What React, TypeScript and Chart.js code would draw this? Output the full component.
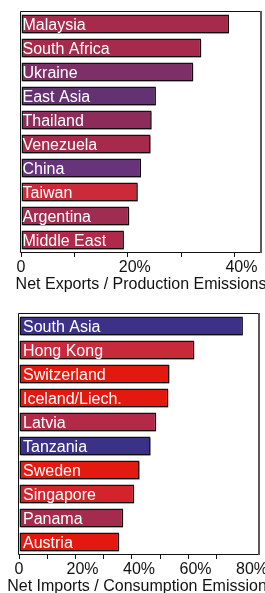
import React, { useEffect, useRef } from 'react';
import { Chart, registerables } from 'chart.js';

Chart.register(...registerables);

// ---- Data ----
const exportCountries = ['Malaysia', 'South Africa', 'Ukraine', 'East Asia', 'Thailand', 'Venezuela', 'China', 'Taiwan', 'Argentina', 'Middle East'];
const exportShares = [39.0, 33.8, 32.3, 25.3, 24.5, 24.3, 22.5, 21.9, 20.3, 19.3];
const exportColors = ['#a52a4c', '#a52a4c', '#7e2f68', '#643173', '#8d2c5a', '#a52a4c', '#67337a', '#cb2a38', '#9e2d51', '#b0294a'];
const exportTicks = [0, 20, 40];
const exportTitle = 'Net Exports / Production Emissions';

const importCountries = ['South Asia', 'Hong Kong', 'Switzerland', 'Iceland/Liech.', 'Latvia', 'Tanzania', 'Sweden', 'Singapore', 'Panama', 'Austria'];
const importShares = [79.3, 62.1, 53.3, 52.9, 48.6, 46.6, 42.7, 40.8, 36.9, 35.5];
const importColors = ['#3b3287', '#c82a3b', '#e3190f', '#e3190f', '#b32a48', '#3b3287', '#e41a10', '#d2242a', '#a52b4e', '#e3190f'];
const importTicks = [0, 20, 40, 60, 80];
const importTitle = 'Net Imports / Consumption Emissions';

const FONT = '16px "Liberation Sans", Arial, Helvetica, sans-serif';

type Area = { left: number; right: number; top: number; bottom: number };

interface PanelProps {
  labels: string[];
  values: number[];
  colors: string[];
  max: number;
  majorTicks: number[];
  title: string;
  width: number;
  height: number;
  area: Area;
  labelInset: number;
  titleShift: number;
}

const TICK_LEN = 5;

function BarPanel(props: PanelProps) {
  const ref = useRef<HTMLCanvasElement | null>(null);
  useEffect(() => {
    const canvas = ref.current;
    if (!canvas) return;
    const { labels, values, colors, max, majorTicks, title, width, height, area, labelInset, titleShift } = props;

    const decor = {
      id: 'decor',
      beforeDatasetsDraw(chart: any) {
        const ctx = chart.ctx;
        ctx.save();
        ctx.shadowColor = 'rgba(0,0,0,0.28)';
        ctx.shadowOffsetX = 1.5;
        ctx.shadowOffsetY = 1.5;
        ctx.shadowBlur = 0.5;
      },
      afterDatasetsDraw(chart: any) {
        const ctx = chart.ctx;
        ctx.restore();
        const ca = chart.chartArea;
        const meta = chart.getDatasetMeta(0);
        ctx.save();
        ctx.font = FONT;
        ctx.fillStyle = '#ffffff';
        ctx.textAlign = 'left';
        ctx.textBaseline = 'alphabetic';
        meta.data.forEach((bar: any, i: number) => {
          ctx.fillText(labels[i], ca.left + labelInset, bar.y + 5.8);
        });
        ctx.restore();
      },
      afterDraw(chart: any) {
        const ctx = chart.ctx;
        const ca = chart.chartArea;
        const xs = chart.scales.x;
        ctx.save();
        // frame
        ctx.strokeStyle = '#111';
        ctx.lineWidth = 1;
        ctx.beginPath();
        ctx.moveTo(ca.right, Math.round(ca.top) - 0.5);
        ctx.lineTo(Math.round(ca.left) - 0.5, Math.round(ca.top) - 0.5);
        ctx.lineTo(Math.round(ca.left) - 0.5, Math.round(ca.bottom) + 0.5);
        ctx.lineTo(ca.right, Math.round(ca.bottom) + 0.5);
        ctx.stroke();
        ctx.strokeStyle = '#5a5a5a';
        ctx.lineWidth = 2;
        ctx.beginPath();
        ctx.moveTo(Math.round(ca.right), Math.round(ca.top) - 1);
        ctx.lineTo(Math.round(ca.right), Math.round(ca.bottom) + 1);
        ctx.stroke();
        // tick labels: number centred on the tick, percent sign trailing
        ctx.font = FONT;
        ctx.fillStyle = '#111';
        ctx.textBaseline = 'alphabetic';
        ctx.textAlign = 'left';
        const ty = ca.bottom + 20.4;
        majorTicks.forEach((v) => {
          const px = xs.getPixelForValue(v);
          const num = String(v);
          const w = ctx.measureText(num).width;
          ctx.fillText(num, px - w / 2, ty);
          if (v !== 0) ctx.fillText('%', px + w / 2, ty);
        });
        // axis title
        ctx.textAlign = 'center';
        ctx.fillText(title, (ca.left + ca.right) / 2 + titleShift, ca.bottom + 37.3);
        ctx.restore();
      },
    };

    const chart = new Chart(canvas, {
      type: 'bar',
      data: {
        labels,
        datasets: [
          {
            data: values,
            backgroundColor: colors,
            borderColor: '#111111',
            borderWidth: 1.5,
            borderSkipped: false,
            barPercentage: 0.8,
            categoryPercentage: 1,
          },
        ],
      },
      options: {
        indexAxis: 'y',
        responsive: false,
        animation: false,
        devicePixelRatio: 1,
        layout: {
          padding: {
            left: area.left,
            right: width - area.right,
            top: area.top,
            bottom: height - area.bottom - TICK_LEN,
          },
        },
        plugins: {
          legend: { display: false },
          tooltip: { enabled: false },
          title: { display: false },
        },
        scales: {
          y: { type: 'category', display: false, offset: true },
          x: {
            type: 'linear',
            min: 0,
            max,
            afterBuildTicks(scale: any) {
              scale.ticks = scale.ticks.filter((t: any) => t.value % 10 === 0);
            },
            ticks: { stepSize: 10, display: false },
            grid: {
              display: true,
              drawOnChartArea: false,
              drawTicks: true,
              tickLength: TICK_LEN,
              color: '#111',
              lineWidth: 1,
            },
            border: { display: false },
            title: { display: false },
          },
        },
      },
      plugins: [decor],
    } as any);
    return () => chart.destroy();
  }, []);
  return (
    <canvas
      ref={ref}
      width={props.width}
      height={props.height}
      style={{ display: 'block', width: props.width, height: props.height }}
    />
  );
}

export default function App() {
  return (
    <div style={{ position: 'absolute', left: 0, top: 0, width: 265, height: 593, background: '#fff', overflow: 'hidden' }}>
      <BarPanel
        labels={exportCountries}
        values={exportShares}
        colors={exportColors}
        max={45}
        majorTicks={exportTicks}
        title={exportTitle}
        width={265}
        height={296}
        area={{ left: 21, right: 261, top: 12, bottom: 252 }}
        labelInset={1.5}
        titleShift={0}
      />
      <BarPanel
        labels={importCountries}
        values={importShares}
        colors={importColors}
        max={85}
        majorTicks={importTicks}
        title={importTitle}
        width={265}
        height={297}
        area={{ left: 19, right: 259, top: 18, bottom: 258 }}
        labelInset={4}
        titleShift={2}
      />
    </div>
  );
}
